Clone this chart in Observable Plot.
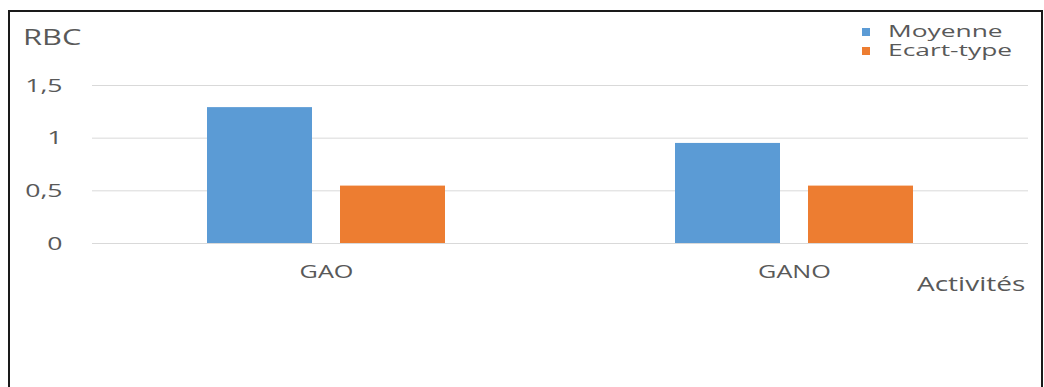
<!DOCTYPE html>
<html>
<head>
<meta charset="utf-8">
<script src="https://cdn.jsdelivr.net/npm/d3@7"></script>
<script src="https://cdn.jsdelivr.net/npm/@observablehq/plot@0.6"></script>
<style>
  html, body { margin: 0; padding: 0; background: #fff; }
  #wrap { position: relative; width: 1044px; height: 387px; overflow: hidden; background: #fff; }
  #frame { position: absolute; left: 8px; top: 10px; width: 1035px; height: 400px;
           border: 2px solid #1a1a1a; border-bottom: none; box-sizing: border-box; pointer-events: none; }
  #chart { position: absolute; left: 0; top: 0; }
</style>
</head>
<body>
<div id="wrap"><div id="chart"></div><div id="frame"></div></div>
<script>
const categories = ["GAO", "GANO"];
const series = ["Moyenne", "Ecart-type"];
const moyenne = [1.29, 0.95];
const ecartType = [0.545, 0.545];
const yTicks = [0, 0.5, 1, 1.5];
const colors = ["#5B9BD5", "#ED7D31"];
const yLabel = "RBC";
const xLabel = "Activités";

const values = [moyenne, ecartType];
const data = [];
categories.forEach((c, i) => series.forEach((s, j) => data.push({cat: c, series: s, value: values[j][i]})));

const fmt = d => String(d).replace(".", ",");
const TXT = "#595959";

const plot = Plot.plot({
  width: 1044,
  height: 387,
  marginTop: 85,
  marginBottom: 144,
  marginLeft: 92,
  marginRight: 16,
  style: {fontFamily: "'Open Sans', sans-serif", background: "transparent", color: TXT},
  fx: {domain: categories, padding: 0},
  x: {domain: series, paddingInner: 0.209, paddingOuter: 0.851, axis: null},
  y: {domain: [0, 1.5], axis: null},
  color: {domain: series, range: colors},
  marks: [
    Plot.ruleY(yTicks, {stroke: "#d9d9d9", strokeWidth: 1}),
    Plot.barY(data, {fx: "cat", x: "series", y: "value", fill: "series"}),
    Plot.axisY({ticks: yTicks, tickFormat: fmt, tickSize: 0, tickPadding: 30, fontSize: 19, label: null, fill: TXT}),
    Plot.axisFx({anchor: "bottom", tickSize: 0, tickPadding: 22, fontSize: 18, label: null, fill: TXT})
  ]
});
document.getElementById("chart").appendChild(plot);

const svg = d3.select(plot);
const ann = svg.append("g").attr("fill", TXT).attr("text-anchor", "start")
  .style("font-family", "'Open Sans', sans-serif");
ann.append("text").attr("x", 23).attr("y", 45).attr("font-size", 22).text(yLabel);
ann.append("text").attr("x", 917).attr("y", 291).attr("font-size", 20).text(xLabel);
const leg = ann.selectAll("g.leg").data(series).join("g").attr("class", "leg")
  .attr("transform", (d, i) => `translate(862, ${28 + i * 19})`);
leg.append("rect").attr("width", 8).attr("height", 8).attr("fill", (d, i) => colors[i]);
leg.append("text").attr("x", 26).attr("y", 9).attr("font-size", 17).text(d => d);

// the reference's text is horizontally stretched
const S = 1.4;
plot.querySelectorAll("text").forEach(t => {
  const w = t.getComputedTextLength();
  const s = t.parentNode.classList.contains("leg") ? 1.55 : S;
  if (w > 0) { t.setAttribute("textLength", w * s); t.setAttribute("lengthAdjust", "spacingAndGlyphs"); }
});
</script>
</body>
</html>
